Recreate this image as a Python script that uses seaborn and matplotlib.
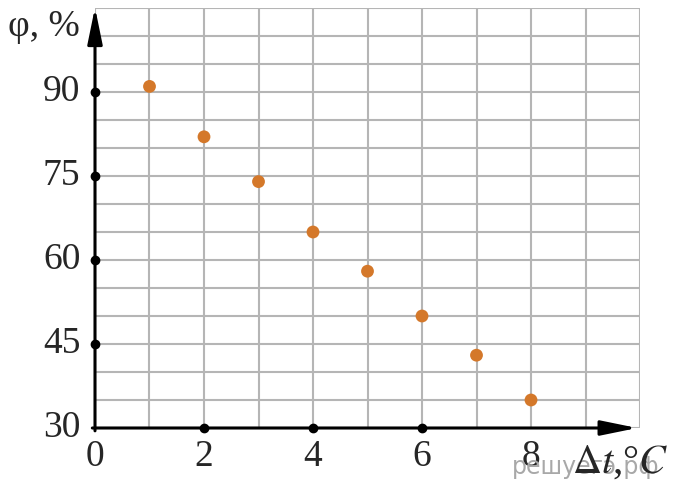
import matplotlib
matplotlib.use("Agg")
import matplotlib.pyplot as plt
import seaborn as sns
import pandas as pd

# данные
dt = [1, 2, 3, 4, 5, 6, 7, 8]
phi = [91, 82, 74, 65, 58, 50, 43, 35]
xticks = [0, 2, 4, 6, 8]
yticks = [30, 45, 60, 75, 90]

data = pd.DataFrame({"dt": dt, "phi": phi})

sns.set_style("white")
plt.rcParams['font.family'] = ['Liberation Serif', 'DejaVu Serif']
plt.rcParams['mathtext.fontset'] = 'stix'

fig = plt.figure(figsize=(6.81, 4.94), dpi=100)
ax = fig.add_axes([0.1395, 0.1336, 0.8003, 0.8502])

ax.set_xlim(0, 10)
ax.set_ylim(30, 105)
ax.set_xticks(range(0, 11))
ax.set_yticks(range(30, 106, 5))
ax.grid(True, color="#b5b5b5", linewidth=1.5)
for s in ax.spines.values():
    s.set_visible(False)
ax.tick_params(length=0, labelbottom=False, labelleft=False)

sns.scatterplot(data=data, x="dt", y="phi", color="#d4782a", s=85,
                edgecolor="none", ax=ax, zorder=5, clip_on=False)

# оси со стрелками
arr = dict(arrowstyle="-|>,head_length=2.2,head_width=0.45", color="black", lw=2.2)
ax.annotate("", xy=(10.0, 30), xytext=(-0.1, 30), arrowprops=arr, annotation_clip=False)
ax.annotate("", xy=(0, 105.6), xytext=(0, 29.0), arrowprops=arr, annotation_clip=False)
ax.plot([0, 0, 0, 0], yticks[1:], "o", color="black", ms=6, clip_on=False, zorder=6)
ax.plot(xticks[1:4], [30, 30, 30], "o", color="black", ms=6, clip_on=False, zorder=6)

for v in yticks:
    ax.text(-0.27, v, str(v), ha="right", va="center", fontsize=27)
for v in xticks:
    ax.text(v, 24.8, str(v), ha="center", va="center", fontsize=27)

ax.set_xlabel("")
ax.set_ylabel("")

fig.text(0.012, 0.945, "φ, %", fontsize=27, ha="left", va="center")
fig.text(0.752, 0.055, "решуегэ.рф", fontsize=17, color="#a8a8a8",
         family="DejaVu Sans", ha="left", va="center")
fig.text(0.840, 0.063, r"$\Delta t$,°$C$", fontsize=29, ha="left", va="center")

fig.savefig("out.png", dpi=100)
